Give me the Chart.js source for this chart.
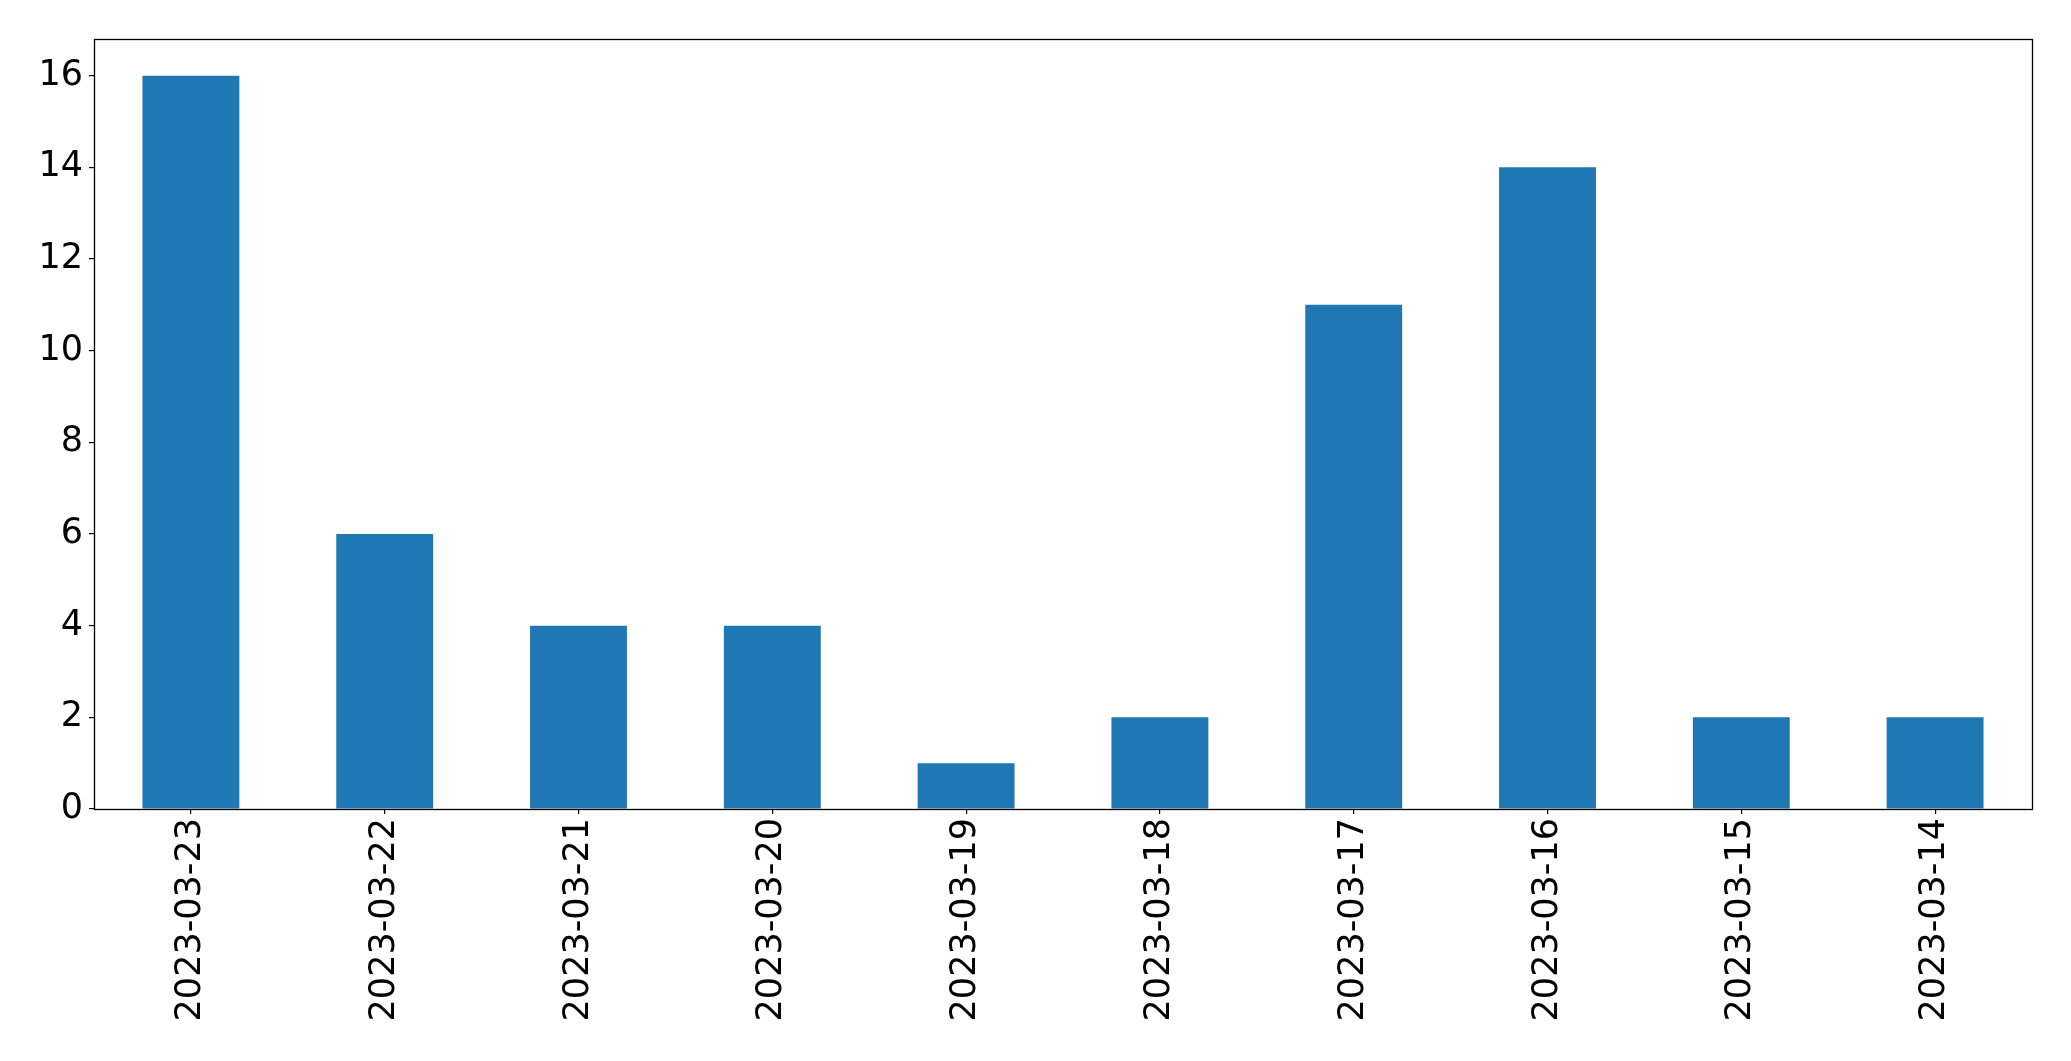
<!DOCTYPE html>
<html>
<head>
<meta charset="utf-8">
<script src="https://cdn.jsdelivr.net/npm/chart.js@4.4.0/dist/chart.umd.min.js"></script>
<style>
  body { margin: 0; background: #fff; }
  canvas { display: block; }
</style>
</head>
<body>
<canvas id="grafica" width="2071" height="1061"></canvas>
<script>
const dates = ["2023-03-23", "2023-03-22", "2023-03-21", "2023-03-20", "2023-03-19",
               "2023-03-18", "2023-03-17", "2023-03-16", "2023-03-15", "2023-03-14"];
const counts = [16, 6, 4, 4, 1, 2, 11, 14, 2, 2];
const yTicks = [0, 2, 4, 6, 8, 10, 12, 14, 16];

// frame around the plot area, like matplotlib's spines
const frame = {
  id: 'frame',
  afterDraw(chart) {
    const a = chart.chartArea, ctx = chart.ctx;
    const l = Math.round(a.left) + 0.5, t = Math.round(a.top) + 0.5;
    const r = Math.round(a.right) + 0.5, b = Math.round(a.bottom) + 0.5;
    ctx.save();
    ctx.strokeStyle = '#000';
    ctx.lineWidth = 1.3;
    ctx.strokeRect(l, t, r - l, b - t);
    ctx.restore();
  }
};

Chart.defaults.font.family = "'DejaVu Sans', sans-serif";
Chart.defaults.font.size = 35;
Chart.defaults.color = '#000';

new Chart(document.getElementById('grafica'), {
  type: 'bar',
  data: {
    labels: dates,
    datasets: [{
      data: counts,
      backgroundColor: '#1f77b4',
      categoryPercentage: 1,
      barPercentage: 0.5
    }]
  },
  options: {
    responsive: false,
    animation: false,
    layout: { padding: { left: 0, top: 39, right: 39, bottom: 0 } },
    plugins: {
      legend: { display: false },
      tooltip: { enabled: false }
    },
    scales: {
      x: {
        offset: true,
        grid: { offset: false, drawOnChartArea: false, tickLength: 5, color: '#000', lineWidth: 1.2 },
        border: { display: false },
        ticks: { minRotation: 90, maxRotation: 90, padding: 4, autoSkip: false },
        afterFit(scale) { scale.height = 252; }
      },
      y: {
        min: 0,
        max: 16.8,
        grid: { drawOnChartArea: false, tickLength: 5, color: '#000', lineWidth: 1.2 },
        border: { display: false },
        ticks: { padding: 6 },
        afterBuildTicks(scale) { scale.ticks = yTicks.map(v => ({ value: v })); },
        afterFit(scale) { scale.width = 94; }
      }
    }
  },
  plugins: [frame]
});
</script>
</body>
</html>
